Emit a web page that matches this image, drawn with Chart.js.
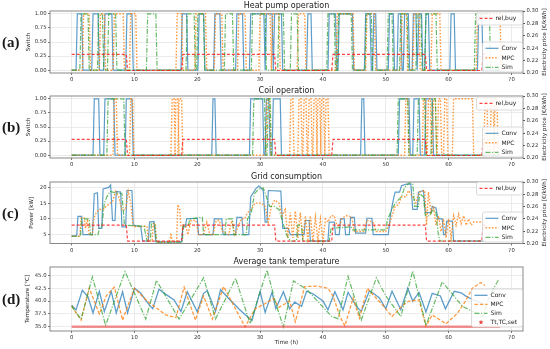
<!DOCTYPE html>
<html>
<head>
<meta charset="utf-8">
<script src="https://cdn.jsdelivr.net/npm/chart.js@4.4.1/dist/chart.umd.min.js"></script>
<style>
html, body { margin: 0; padding: 0; background: #fff; }
#wrap { position: relative; width: 550px; height: 349px; overflow: hidden; }
canvas { position: absolute; left: 0; }
</style>
</head>
<body>
<div id="wrap">
  <canvas id="cA" width="550" height="84" style="top:0px"></canvas>
  <canvas id="cB" width="550" height="86" style="top:84px"></canvas>
  <canvas id="cC" width="550" height="85" style="top:170px"></canvas>
  <canvas id="cD" width="550" height="94" style="top:255px"></canvas>
</div>
<script>
// ticks
const xTicks = [0, 10, 20, 30, 40, 50, 60, 70];
const switchTicks = [0, 0.25, 0.5, 0.75, 1];
const priceTicks = [0.20, 0.22, 0.24, 0.26, 0.28, 0.30];
const powerTicks = [5, 10, 15, 20];
const tempTicks = [35, 37.5, 40, 42.5, 45];

// relative buying price [€/kWh]
const priceT = [0, 8.7, 8.9, 17.5, 17.7, 32.3, 32.5, 41.4, 41.6, 56.3, 56.5, 65.3, 65.5, 66.2];
const priceV = [0.23, 0.23, 0.204, 0.204, 0.23, 0.23, 0.204, 0.204, 0.23, 0.23, 0.204, 0.204, 0.23, 0.23];

// heat pump on-intervals [start h, end h]
const hpConv = [[0.9,1.6],[3.4,4.2],[5.3,6.4],[8.8,9.6],[17.6,18.3],[20.3,21.0],[22.8,23.6],[26.3,27.2],[28.5,30.6],[31.0,31.9],[32.3,33.4],[37.6,38.1],[41.0,42.0],[42.6,44.7],[46.8,47.5],[48.1,48.4],[50.6,51.2],[52.0,52.4],[53.0,53.6],[54.4,54.8],[55.3,55.7],[56.4,56.8],[60.4,60.9],[64.8,65.3]];
const hpMPC = [[1.9,2.8],[4.6,5.2],[6.8,8.2],[9.4,10.2],[16.8,17.5],[19.8,21.3],[22.9,23.9],[26.6,27.6],[30.0,31.6],[32.0,33.0],[36.1,37.1],[42.3,44.8],[47.0,48.2],[52.6,53.3],[54.5,55.3],[57.4,58.6],[64.6,68.2]];
const hpSim = [[1.5,2.6],[4.3,4.9],[5.9,7.0],[12.1,13.4],[18.4,19.5],[20.1,21.0],[24.5,25.6],[28.8,30.8],[33.0,33.7],[35.0,35.9],[40.8,41.8],[42.5,44.5],[46.9,47.7],[50.4,51.0],[52.4,53.4],[55.0,55.6],[56.4,58.0],[64.3,66.5]];

// coil on-intervals
const coilConv = [[3.6,4.3],[5.3,6.7],[8.7,9.6],[22.5,22.8],[28.5,30.4],[31.0,31.4],[32.1,33.2],[46.2,46.5],[52.2,53.7],[54.5,55.3],[56.4,57.4]];
const coilMPC = [[6.8,7.1],[9.4,9.7],[16.0,16.3],[16.6,16.9],[17.1,17.5],[31.1,31.5],[34.9,35.2],[36.2,36.5],[37.0,37.3],[37.8,38.1],[38.6,38.9],[39.2,39.5],[39.8,40.1],[40.5,40.8],[53.2,53.5],[56.0,56.3],[56.8,57.1],[57.6,57.9],[58.4,58.7],[59.4,59.7],[60.8,63.8],[65.8,66.1],[66.8,67.1],[67.4,67.7]];
const coilSim = [[5.8,8.3],[29.0,30.7],[31.3,31.6],[52.0,53.5],[55.2,56.2],[57.4,57.9]];

// grid consumption [h, kW]
const gridConv = [[0,4.6],[0.8,4.6],[1.0,10.8],[1.6,10.8],[1.8,5.0],[3.3,5.0],[3.6,18.0],[4.1,18.3],[4.3,7.0],[4.8,7.0],[5.0,19.5],[5.9,20.0],[6.2,20.8],[6.5,9.5],[6.9,9.5],[7.1,18.7],[7.8,18.5],[8.0,7.5],[8.6,7.5],[8.8,19.0],[9.6,19.0],[9.8,8.0],[11.0,7.5],[11.3,3.0],[12.2,3.0],[12.4,9.0],[13.1,9.2],[13.4,2.7],[17.5,2.7],[17.7,7.5],[18.1,7.5],[18.3,10.0],[20.0,10.2],[20.2,5.0],[22.5,5.0],[22.7,10.0],[23.9,10.0],[24.1,5.0],[26.1,5.0],[26.3,10.5],[27.1,10.5],[27.3,5.0],[28.2,5.0],[28.5,17.0],[29.3,19.5],[29.8,20.5],[30.5,19.0],[30.8,9.0],[31.1,9.0],[31.3,19.0],[33.3,18.8],[33.6,7.0],[34.5,7.0],[34.8,5.0],[37.0,5.0],[37.2,9.5],[37.8,9.5],[38.0,3.0],[40.8,3.0],[41.0,9.0],[41.8,9.0],[42.0,5.0],[42.6,5.0],[42.8,10.0],[43.4,10.0],[43.6,5.0],[44.2,5.0],[44.4,10.5],[45.0,10.5],[45.2,5.5],[46.8,5.5],[47.0,10.2],[47.8,10.2],[48.0,5.0],[50.4,5.0],[50.8,12.0],[51.3,17.0],[51.5,18.5],[52.2,18.5],[52.5,20.5],[53.3,21.0],[54.0,21.0],[54.3,13.0],[55.0,13.0],[55.2,18.5],[56.0,19.0],[56.3,12.0],[57.2,12.0],[57.4,14.0],[58.0,13.5],[58.3,10.0],[59.0,10.0],[59.2,5.0],[59.5,5.0],[59.7,9.3],[60.6,9.3],[60.8,3.0],[66.0,3.0]];
const gridMPC = [[0,4.5],[1.3,4.5],[1.5,10.3],[2.0,10.3],[2.2,7.0],[2.5,10.0],[2.8,5.0],[3.3,5.0],[3.5,10.0],[3.9,12.0],[4.4,13.0],[5.0,13.0],[5.5,14.0],[6.5,15.5],[7.0,18.7],[7.5,17.0],[8.0,12.7],[8.6,13.0],[9.0,18.7],[9.4,15.0],[9.8,7.5],[12.0,7.7],[12.2,3.0],[12.8,3.0],[13.0,8.5],[13.3,8.5],[13.5,2.6],[15.6,2.6],[15.8,5.5],[16.0,2.6],[16.7,2.6],[16.9,14.5],[17.2,13.0],[17.4,7.5],[18.2,7.5],[18.5,5.0],[19.0,9.5],[19.8,9.5],[20.2,5.0],[21.0,5.0],[21.5,9.0],[22.0,5.0],[22.5,5.0],[23.0,9.5],[23.5,9.5],[24.0,6.0],[25.0,5.0],[25.5,9.5],[26.0,5.0],[27.0,10.0],[27.5,10.0],[28.0,12.0],[28.6,13.0],[29.2,15.0],[30.2,15.0],[30.8,14.0],[31.3,9.0],[31.8,14.0],[32.3,16.0],[33.0,15.0],[33.5,11.0],[34.0,13.0],[34.4,4.0],[34.8,12.0],[35.2,4.0],[35.6,12.5],[36.0,4.0],[36.4,12.0],[36.8,3.5],[37.2,11.0],[37.6,3.5],[38.0,11.0],[38.4,3.0],[38.8,10.5],[39.2,3.0],[39.6,10.0],[40.0,3.0],[40.4,10.0],[40.8,9.0],[41.3,11.0],[41.8,11.0],[42.2,8.0],[42.6,7.5],[43.0,10.0],[43.6,11.0],[44.0,11.0],[44.6,10.5],[45.0,6.0],[46.5,6.0],[47.0,9.5],[48.0,9.0],[48.5,6.0],[50.0,6.0],[50.5,8.0],[51.0,11.0],[51.5,14.0],[52.0,14.5],[52.5,17.0],[53.2,17.0],[53.6,19.0],[54.3,17.0],[54.8,15.0],[55.3,18.5],[56.2,19.0],[56.5,8.0],[56.8,18.5],[57.2,12.0],[57.6,14.0],[58.0,8.0],[58.4,11.0],[58.8,6.0],[59.2,10.0],[59.6,4.0],[60.0,10.0],[60.4,4.0],[60.8,11.0],[61.2,8.0],[61.6,11.5],[62.0,8.5],[62.4,11.0],[62.8,8.0],[63.2,10.0],[63.6,8.0],[64.0,9.0],[66.0,9.0]];
const gridSim = [[0,4.5],[1.4,4.5],[1.6,10.0],[2.8,10.0],[3.0,5.0],[4.2,5.0],[4.4,7.0],[4.8,7.5],[5.2,15.0],[5.6,17.0],[6.1,18.7],[7.0,18.3],[8.0,18.0],[8.4,8.0],[11.5,7.7],[12.0,3.0],[12.5,3.0],[12.7,8.5],[13.2,8.7],[13.5,2.6],[17.6,2.6],[17.8,8.0],[18.6,8.0],[18.8,10.0],[20.8,10.5],[21.0,5.0],[24.4,5.0],[24.6,10.0],[25.6,10.0],[25.8,5.0],[27.8,5.0],[28.0,10.0],[28.6,12.0],[29.1,18.0],[29.8,19.5],[30.5,19.8],[31.0,17.0],[31.5,14.0],[32.2,14.0],[33.0,13.0],[33.6,9.0],[34.2,5.0],[34.8,3.0],[35.8,3.0],[36.0,8.0],[36.6,8.0],[36.8,3.0],[41.0,3.0],[41.3,7.0],[44.5,7.5],[44.7,6.5],[50.0,6.5],[50.3,10.0],[51.0,13.0],[51.5,15.0],[52.5,17.0],[53.0,20.0],[53.8,21.5],[54.3,21.0],[54.6,14.0],[55.2,14.0],[55.4,18.0],[56.0,17.0],[56.3,11.0],[57.0,11.0],[57.5,13.0],[58.0,12.0],[58.3,6.0],[58.6,3.0],[66.0,3.0]];

// average tank temperature [h, °C]
const tempConv = [[0,39.2],[0.7,38.3],[1.7,42.1],[2.6,40.8],[3.4,37.7],[4.4,41.9],[5.2,38.0],[6.3,41.9],[7.1,37.7],[8.1,41.8],[8.9,37.7],[10.0,42.5],[11.0,41.5],[12.0,39.8],[12.9,38.5],[13.9,42.3],[15.0,41.3],[16.3,40.2],[17.4,38.0],[18.4,41.8],[20.0,37.9],[21.0,41.5],[21.6,42.0],[22.9,38.0],[23.7,42.2],[25.0,40.5],[26.6,38.5],[27.5,37.5],[28.7,36.2],[30.0,41.9],[30.8,37.8],[31.9,41.7],[32.5,38.5],[33.7,41.8],[34.7,38.5],[35.5,39.8],[36.6,39.0],[37.4,41.9],[38.4,41.4],[40.0,40.0],[40.8,38.3],[41.9,41.8],[43.2,38.3],[44.0,41.7],[45.3,39.0],[46.1,38.0],[47.4,42.0],[48.0,41.5],[49.0,40.6],[50.0,38.5],[51.0,41.9],[52.4,38.3],[53.5,42.5],[54.3,40.0],[55.3,41.7],[56.4,37.9],[57.4,41.5],[58.7,41.0],[59.5,38.5],[60.9,41.9],[62.0,41.6],[62.7,41.0],[63.8,40.3],[65.5,39.5]];
const tempMPC = [[0,39.0],[1.5,36.3],[2.8,42.5],[4.4,37.5],[5.5,41.0],[6.8,42.7],[8.1,36.3],[10.0,42.5],[12.0,40.0],[15.0,37.3],[16.6,36.8],[17.9,42.7],[19.7,36.3],[21.0,41.0],[22.4,36.5],[24.2,42.8],[27.6,35.0],[29.2,38.5],[30.8,39.5],[32.1,40.5],[33.0,38.8],[34.7,40.0],[35.6,36.0],[37.1,42.8],[39.0,42.9],[40.8,42.5],[41.6,41.0],[42.7,37.0],[43.5,35.2],[44.8,40.6],[45.8,36.7],[47.1,42.5],[47.4,42.0],[49.8,38.8],[51.0,37.0],[52.7,39.2],[53.7,40.0],[55.3,40.2],[56.4,35.1],[57.4,37.3],[59.6,35.6],[61.4,37.6],[62.7,40.0],[63.8,42.5],[65.1,43.6],[65.8,43.0]];
const tempSim = [[0,39.0],[1.5,36.5],[3.3,44.7],[5.4,35.3],[8.5,45.7],[11.8,36.5],[13.5,44.0],[17.1,36.5],[21.0,44.5],[22.9,36.5],[26.1,44.4],[28.4,35.6],[31.1,46.0],[32.5,39.5],[33.7,35.0],[35.3,43.9],[37.4,42.3],[41.4,37.0],[42.4,36.6],[44.0,44.8],[46.1,36.3],[48.5,44.5],[50.0,41.0],[52.4,37.0],[54.3,45.8],[56.4,35.3],[59.0,43.7],[62.2,39.0],[65.4,37.0],[66.7,41.5],[68.0,44.2]];
const setT = [0, 68.2];
const setV = [35.0, 35.0];

const FONT = 'DejaVu Sans';
const C_CONV = 'rgba(31,119,180,0.72)';
const C_MPC = 'rgba(255,127,14,0.78)';
const C_SIM = 'rgba(44,160,44,0.72)';
const C_PRICE = 'rgba(255,20,20,0.8)';
const C_SET = 'rgba(235,70,70,0.6)';

// switch signal -> points (0.2 h ramp like the sampled data)
function pulses(iv, end) {
  const pts = [{ x: 0, y: 0 }];
  iv.forEach(([a, b]) => {
    pts.push({ x: a - 0.2, y: 0 }, { x: a, y: 1 }, { x: b, y: 1 }, { x: b + 0.2, y: 0 });
  });
  pts.push({ x: end, y: 0 });
  return pts;
}
const pairs = arr => arr.map(([x, y]) => ({ x, y }));
const zip = (ts, vs) => ts.map((t, i) => ({ x: t, y: vs[i] }));
const setTicks = vals => s => { s.ticks = vals.map(v => ({ value: v })); };

function vtext(ctx, txt, x, y) {
  ctx.save();
  ctx.translate(x, y);
  ctx.rotate(-Math.PI / 2);
  ctx.fillText(txt, 0, 0);
  ctx.restore();
}

function star(ctx, x, y, r) {
  ctx.beginPath();
  for (let i = 0; i < 10; i++) {
    const a = -Math.PI / 2 + i * Math.PI / 5;
    const rr = i % 2 ? r * 0.45 : r;
    ctx.lineTo(x + rr * Math.cos(a), y + rr * Math.sin(a));
  }
  ctx.closePath();
  ctx.fill();
}

function drawLegend(ctx, a, L, datasets) {
  const bx = a.right - L.w - 0.5, by = a.top + L.dy;
  ctx.save();
  ctx.fillStyle = 'rgba(255,255,255,0.85)';
  ctx.strokeStyle = '#d2d2d2';
  ctx.lineWidth = 0.8;
  ctx.setLineDash([]);
  ctx.beginPath();
  ctx.roundRect(bx, by, L.w, L.h, 2);
  ctx.fill();
  ctx.stroke();
  L.labels.forEach((lab, i) => {
    const d = datasets.find(x => x.label === lab);
    const y = by + 6.3 + i * L.row;
    if (d.legendStar) {
      ctx.fillStyle = 'rgba(230,40,40,0.85)';
      star(ctx, bx + 9.5, y, 2.6);
    } else {
      ctx.strokeStyle = d.borderColor;
      ctx.lineWidth = d.borderWidth;
      ctx.setLineDash(d.borderDash || []);
      ctx.beginPath();
      ctx.moveTo(bx + 3, y);
      ctx.lineTo(bx + 16, y);
      ctx.stroke();
    }
    ctx.setLineDash([]);
    ctx.fillStyle = '#1a1a1a';
    ctx.font = `6px "${FONT}"`;
    ctx.textAlign = 'left';
    ctx.textBaseline = 'middle';
    ctx.fillText(lab, bx + 19, y + 0.3);
  });
  ctx.restore();
}

function decor(p) {
  return {
    id: 'decor',
    afterDraw(chart) {
      const { ctx, chartArea: a } = chart;
      const midY = (a.top + a.bottom) / 2;
      ctx.save();
      ctx.setLineDash([]);
      ctx.strokeStyle = '#7c7c7c';
      ctx.lineWidth = 0.9;
      ctx.strokeRect(a.left, a.top, a.right - a.left, a.bottom - a.top);
      ctx.fillStyle = '#1a1a1a';
      ctx.textAlign = 'center';
      ctx.textBaseline = 'middle';
      ctx.font = `8px "${FONT}"`;
      ctx.fillText(p.title, (a.left + a.right) / 2, a.top - 5.5);
      ctx.font = 'bold 15px "Liberation Serif"';
      ctx.textAlign = 'left';
      ctx.fillText(p.letter, 2, midY + 1.5);
      ctx.textAlign = 'center';
      ctx.font = `5.6px "${FONT}"`;
      vtext(ctx, p.ylab, p.ylabX, midY);
      if (p.price) vtext(ctx, 'Electricity price [€/kWh]', 545, midY);
      if (p.xlab) ctx.fillText(p.xlab, (a.left + a.right) / 2, p.xlabY);
      p.legends.forEach(L => drawLegend(ctx, a, L, chart.data.datasets));
      ctx.restore();
    }
  };
}

function tickFont() { return { size: 5.3, family: FONT }; }

function makePanel(id, p) {
  const scales = {
    x: {
      type: 'linear', min: -3.45, max: 71.85,
      afterBuildTicks: setTicks(xTicks),
      afterFit: s => { s.height = p.xh; },
      ticks: { font: tickFont(), color: '#333', padding: 1.5, maxRotation: 0, autoSkip: false, callback: v => String(v) },
      grid: { color: '#e6e6e6', lineWidth: 0.8, tickLength: 2, tickColor: '#555' },
      border: { display: false }
    },
    y: {
      position: 'left', min: p.y.min, max: p.y.max,
      afterBuildTicks: setTicks(p.y.ticks),
      afterFit: s => { s.width = 50; },
      ticks: { font: tickFont(), color: '#333', padding: 1.5, autoSkip: false, callback: p.y.fmt },
      grid: { color: '#e6e6e6', lineWidth: 0.8, tickLength: 2, tickColor: '#555' },
      border: { display: false }
    }
  };
  if (p.price) {
    scales.y2 = {
      position: 'right', min: 0.2, max: 0.3,
      afterBuildTicks: setTicks(priceTicks),
      afterFit: s => { s.width = 27; },
      ticks: { font: tickFont(), color: '#333', padding: 1.5, autoSkip: false, callback: v => v.toFixed(2) },
      grid: { drawOnChartArea: false, tickLength: 2, tickColor: '#555' },
      border: { display: false }
    };
  }
  new Chart(document.getElementById(id), {
    type: 'line',
    data: { datasets: p.datasets },
    options: {
      responsive: false,
      animation: false,
      events: [],
      layout: { padding: { top: p.top, left: 0, right: p.price ? 0 : 27, bottom: 0 } },
      plugins: { legend: { display: false }, tooltip: { enabled: false } },
      elements: { point: { radius: 0 }, line: { tension: 0, borderCapStyle: 'butt' } },
      scales
    },
    plugins: [decor(p)]
  });
}

function trio(conv, mpc, sim) {
  return [
    { label: 'rel,buy', data: zip(priceT, priceV), borderColor: C_PRICE, borderWidth: 1.2, borderDash: [3, 2], yAxisID: 'y2', order: 0 },
    { label: 'Sim', data: sim, borderColor: C_SIM, borderWidth: 1.2, borderDash: [5, 1.6, 1.2, 1.6], yAxisID: 'y', order: 1 },
    { label: 'MPC', data: mpc, borderColor: C_MPC, borderWidth: 1.4, borderDash: [1.6, 1.6], yAxisID: 'y', order: 2 },
    { label: 'Conv', data: conv, borderColor: C_CONV, borderWidth: 1.2, yAxisID: 'y', order: 3 }
  ];
}

const priceLegends = [
  { w: 46, h: 13, dy: 1, row: 9.5, labels: ['rel,buy'] },
  { w: 40, h: 30, dy: 31, row: 9.5, labels: ['Conv', 'MPC', 'Sim'] }
];
const switchAxis = { min: -0.05, max: 1.05, ticks: switchTicks, fmt: v => v.toFixed(2) };

makePanel('cA', {
  top: 11, xh: 11, title: 'Heat pump operation', letter: '(a)', ylab: 'Switch', ylabX: 29, price: true,
  y: switchAxis, legends: priceLegends,
  datasets: trio(pulses(hpConv, 68.2), pulses(hpMPC, 68.4), pulses(hpSim, 68.2))
});
makePanel('cB', {
  top: 12, xh: 12, title: 'Coil operation', letter: '(b)', ylab: 'Switch', ylabX: 29, price: true,
  y: switchAxis, legends: priceLegends,
  datasets: trio(pulses(coilConv, 68.2), pulses(coilMPC, 68.2), pulses(coilSim, 68.2))
});
makePanel('cC', {
  top: 12, xh: 11.5, title: 'Grid consumption', letter: '(c)', ylab: 'Power [kW]', ylabX: 32, price: true,
  y: { min: 2.2, max: 21.7, ticks: powerTicks, fmt: v => String(v) },
  legends: [
    { w: 46, h: 13, dy: 0, row: 9.5, labels: ['rel,buy'] },
    { w: 40, h: 30, dy: 30, row: 9.5, labels: ['Conv', 'MPC', 'Sim'] }
  ],
  datasets: trio(pairs(gridConv), pairs(gridMPC), pairs(gridSim))
});
makePanel('cD', {
  top: 12, xh: 18, title: 'Average tank temperature', letter: '(d)', ylab: 'Temperature [°C]', ylabX: 28, price: false,
  xlab: 'Time (h)', xlabY: 88,
  y: { min: 34.2, max: 46.6, ticks: tempTicks, fmt: v => v.toFixed(1) },
  legends: [{ w: 51, h: 38, dy: 22, row: 9, labels: ['Conv', 'MPC', 'Sim', 'Tt,TC,set'] }],
  datasets: [
    { label: 'Tt,TC,set', data: zip(setT, setV), borderColor: C_SET, borderWidth: 2.5, legendStar: true, order: 0 },
    { label: 'Sim', data: pairs(tempSim), borderColor: C_SIM, borderWidth: 1.2, borderDash: [5, 1.6, 1.2, 1.6], order: 1 },
    { label: 'MPC', data: pairs(tempMPC), borderColor: C_MPC, borderWidth: 1.3, borderDash: [3.5, 1.8], order: 2 },
    { label: 'Conv', data: pairs(tempConv), borderColor: C_CONV, borderWidth: 1.3, order: 3 }
  ]
});
</script>
</body>
</html>
